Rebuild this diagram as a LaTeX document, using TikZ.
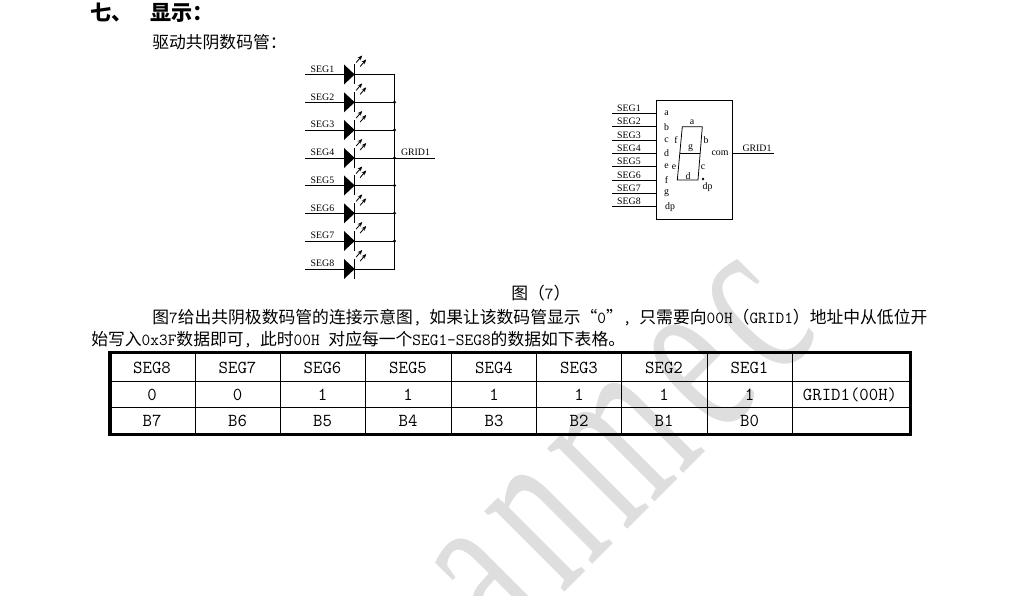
\documentclass[tikz,border=0pt]{standalone}
\usepackage{fontspec}
\setmainfont{Liberation Serif}
\newfontfamily\cjk{Noto Sans CJK SC}
\newfontfamily\markfont[LetterSpace=10]{Liberation Serif}
\usetikzlibrary{arrows.meta}
\newcommand{\lat}[1]{{\ttfamily\fontsize{12}{14}\selectfont #1}}
\newcommand{\dou}{\lat{,}\hspace{5.5pt}}
\tikzset{
	wire/.style={line width=0.55pt},
	labelsmall/.style={font=\fontsize{7}{8}\selectfont, inner sep=0pt},
	bodytext/.style={font=\cjk\fontsize{11.95}{14}\selectfont, inner sep=0pt, anchor=west},
	headtext/.style={font=\cjk\bfseries\fontsize{15}{18}\selectfont, inner sep=0pt, anchor=west},
	celltext/.style={font=\ttfamily\fontsize{13}{15}\selectfont, inner sep=0pt},
	junction/.style={fill=black, circle, inner sep=0pt, minimum size=2.4pt},
	glow/.style={line width=0.6pt, -{Stealth[length=3.4pt,width=2.8pt]}}
}

\begin{document}
\begin{tikzpicture}[x=0.025cm, y=-0.025cm]
	\useasboundingbox (0, 0) rectangle (1020, 596);

	%%%%% WATERMARK %%%%%
	\begin{scope}
		\clip (0, 0) rectangle (1020, 596);
		\node[anchor=base east, rotate=45, xscale=0.6, text=black!13, inner sep=0pt,
			font=\markfont\fontsize{176}{180}\selectfont] (mark) at (822, 335) {t anmec};
	\end{scope}

	%%%%% HEADINGS %%%%%
	\node[headtext] (headnum) at (90, 13) {七、};
	\node[headtext] (headtitle) at (150, 13) {显示：};
	\node[bodytext] (intro) at (152, 42) {驱动共阴数码管：};

	%%%%% LED ROWS %%%%%
	\coordinate (bustop) at (394.5, 74.5);
	\coordinate (busbot) at (394.5, 269);
	\foreach \i/\y in {1/74.5, 2/102.3, 3/130, 4/158, 5/185.5, 6/213.3, 7/241, 8/269} {
		\coordinate (wire\i) at (305, \y);
		\coordinate (led\i) at (354.7, \y);
		\coordinate (bus\i) at (394.5, \y);
		\draw[wire] (wire\i) -- (bus\i);
		\fill (led\i) -- ++(-10.7, -10) -- ++(0, 20) -- cycle;
		\draw[wire] (led\i) ++(0, -10) -- ++(0, 20);
		\draw[glow] (led\i) ++(1.5, -12) -- ++(6, -7);
		\draw[glow] (led\i) ++(5.5, -8) -- ++(6, -7);
		\node[labelsmall] (seg\i) at (322.5, \y-5.5) {SEG\i};
	}
	\draw[wire] (bustop) -- (busbot);
	\foreach \i in {2,...,7} {
		\node[junction] (dot\i) at (bus\i) {};
	}
	\coordinate (gridend) at (435, 158);
	\draw[wire] (bus4) -- (gridend);
	\node[labelsmall] (gridleft) at (415.5, 152.5) {GRID1};

	%%%%% DIGIT BOX %%%%%
	\node[draw, line width=0.55pt, minimum width=54pt, minimum height=84.6pt, inner sep=0pt] (box) at (694.7, 159.5) {};
	\foreach \i/\y/\t in {1/113.3/a, 2/126.7/b, 3/140/c, 4/153/d, 5/166.7/e, 6/180/f, 7/193.3/g} {
		\coordinate (pin\i) at (612, \y);
		\coordinate (pinr\i) at (box.west |- pin\i);
		\draw[wire] (pin\i) -- (pinr\i);
		\node[labelsmall] (sname\i) at (629, \y-5) {SEG\i};
		\node[labelsmall] (letter\i) at (666.5, \y) {\t};
	}
	\coordinate (pin8) at (612, 206.7);
	\coordinate (pinr8) at (box.west |- pin8);
	\draw[wire] (pin8) -- (pinr8);
	\node[labelsmall] (sname8) at (629, 201.7) {SEG8};
	\node[labelsmall] (letter8) at (670, 207.5) {dp};

	%%%%% SEGMENTS %%%%%
	\coordinate (ta) at (682.3, 126.7);
	\coordinate (tb) at (702.3, 126.7);
	\coordinate (ma) at (679.5, 153.3);
	\coordinate (mb) at (699.8, 153.3);
	\coordinate (ba) at (677.3, 180);
	\coordinate (bb) at (698, 180);
	\draw[wire] (ba) -- (ta) -- (tb) -- (bb) -- cycle;
	\draw[wire] (ma) -- (mb);
	\node[labelsmall] (sega) at (692, 122) {a};
	\node[labelsmall] (segf) at (676, 140) {f};
	\node[labelsmall] (segb) at (706, 140.5) {b};
	\node[labelsmall] (segg) at (690.5, 148) {g};
	\node[labelsmall] (sege) at (674, 167) {e};
	\node[labelsmall] (segc) at (703, 167.5) {c};
	\node[labelsmall] (segd) at (688, 176) {d};
	\node[junction, minimum size=1.8pt] (segdot) at (703, 179) {};
	\node[labelsmall] (segdp) at (707.5, 187.5) {dp};
	\node[labelsmall] (com) at (720, 153.5) {com};
	\coordinate (boxout) at (box.east |- mb);
	\coordinate (boxend) at (774, 153.3);
	\draw[wire] (boxout) -- (boxend);
	\node[labelsmall] (gridright) at (757, 148) {GRID1};

	%%%%% PARAGRAPH %%%%%
	\node[bodytext] (caption) at (511, 293) {图（\lat{7}）};
	\node[bodytext] (lineone) at (152, 317) {图\lat{7}给出共阴极数码管的连接示意图\dou 如果让该数码管显示“\lat{0}”\dou 只需要向\lat{00H}（\lat{GRID1}）地址中从低位开};
	\node[bodytext] (linetwo) at (91, 340) {始写入\lat{0x3F}数据即可\dou 此时\lat{00H~}对应每一个\lat{SEG1-SEG8}的数据如下表格。};

	%%%%% TABLE %%%%%
	\draw[line width=2.4pt] (110, 352.7) rectangle (910.8, 434.3);
	\foreach \x in {195.7, 280.7, 365.7, 451.3, 536.7, 621.7, 707.3, 792.7} {
		\draw[line width=0.7pt] (\x, 352.7) -- (\x, 434.3);
	}
	\draw[line width=0.7pt] (110, 381) -- (910.8, 381);
	\draw[line width=0.7pt] (110, 407.3) -- (910.8, 407.3);
	\foreach \x/\s/\v/\b in {152/8/0/7, 237.5/7/0/6, 322.5/6/1/5, 408/5/1/4, 494/4/1/3, 579/3/1/2, 664/2/1/1, 749.5/1/1/0} {
		\node[celltext] (name\s) at (\x, 367.5) {SEG\s};
		\node[celltext] (val\s) at (\x, 394.5) {\v};
		\node[celltext] (bit\s) at (\x, 421) {B\b};
	}
	\node[celltext] (gridcell) at (850, 394.5) {GRID1(00H)};
\end{tikzpicture}
\end{document}
